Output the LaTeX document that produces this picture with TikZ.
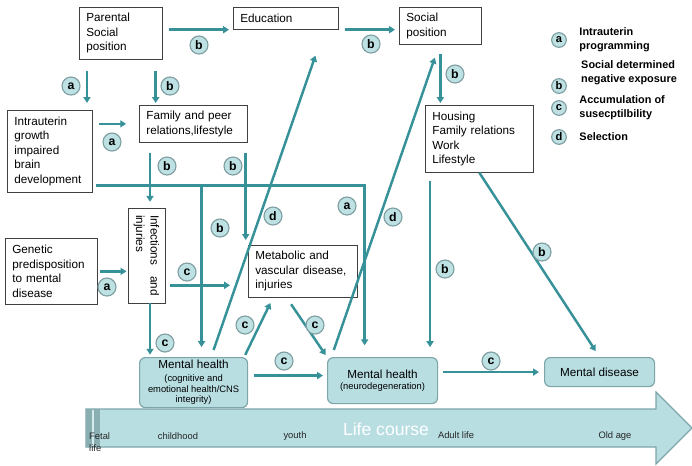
\documentclass[tikz,border=0pt]{standalone}
\usepackage{fontspec}
\setmainfont{Liberation Sans}
\usepackage{tikz}
\usetikzlibrary{positioning, arrows.meta}
\usepackage{xcolor}
\definecolor{tealline}{RGB}{54,145,152}
\definecolor{tealfill}{RGB}{184,222,226}
\definecolor{tealedge}{RGB}{125,166,170}
\definecolor{bubble}{RGB}{190,225,228}
\definecolor{bubbleedge}{RGB}{128,160,163}
\newcommand{\subtxt}{\fontsize{8}{9}\selectfont}
\newcommand{\headtxt}{\fontsize{10}{12}\selectfont}

\begin{document}
\begin{tikzpicture}[x=0.03cm, y=-0.03cm,
        every node/.style={font=\fontsize{10}{12.4}\selectfont},
        box/.style={draw=black!75, line width=0.6pt, anchor=north west, align=left,
                    inner xsep=0.21cm, inner ysep=2pt},
        health/.style={draw=tealedge, fill=tealfill, line width=1pt, rounded corners=5pt,
                       anchor=north west, align=center, inner sep=1pt, font=\subtxt},
        tag/.style={circle, draw=bubbleedge, fill=bubble, line width=1pt, inner sep=0pt,
                    minimum size=0.54cm, font=\fontsize{10.5}{12}\bfseries},
        key/.style={tag, minimum size=0.44cm, font=\fontsize{9.5}{11}\bfseries},
        keytext/.style={align=left, font=\fontsize{9.3}{12}\bfseries, inner sep=0pt},
        age/.style={font=\fontsize{8}{10}\selectfont, inner sep=0pt, text=black!85},
        arr/.style={-{Triangle[length=5pt, width=6pt]}, line width=2.1pt, draw=tealline}]

      \useasboundingbox (0,0) rectangle (692,465);

      \node[box, text width=2.07cm, minimum height=1.56cm] (par) at (79,7) {Parental\\Social\\position};
      \node[box, text width=2.73cm, minimum height=0.66cm] (edu) at (233,7) {Education};
      \node[box, text width=2.04cm, minimum height=1.11cm] (soc) at (399,7) {Social\\position};
      \node[box, text width=2.13cm, minimum height=2.46cm] (intr) at (7,110) {Intrauterin\\growth\\impaired\\brain\\development};
      \node[box, text width=2.82cm, minimum height=1.11cm] (fam) at (139,105) {Family and peer\\relations,lifestyle};
      \node[box, text width=2.82cm, minimum height=2.01cm] (hous) at (425,105) {Housing\\Family relations\\Work\\Lifestyle};
      \node[box, text width=2.34cm, minimum height=1.98cm] (gen) at (5,238) {Genetic\\predisposition\\to mental\\disease};
      \node[box, text width=2.85cm, minimum height=1.56cm] (meta) at (248,245) {Metabolic and\\vascular disease,\\injuries};
      \node[box, anchor=center, rotate=-90, text width=2.43cm, minimum height=1.11cm] (inf) at (146.5,255.5) {Infections\hfill and\\injuries};

      \node[health, minimum width=3.24cm, minimum height=1.5cm] (mhc) at (139,357)
           {{\headtxt Mental health}\\[2pt](cognitive and\\emotional health/CNS\\integrity)};
      \node[health, minimum width=3.3cm, minimum height=1.38cm] (mhn) at (327,357)
           {{\headtxt Mental health}\\[0.5pt](neurodegeneration)};
      \node[health, minimum width=3.3cm, minimum height=0.87cm, font=\headtxt] (mdis) at (544,357) {Mental disease};

      \draw[draw=tealedge, fill=tealfill, line width=1pt] (86,409) -- (656,409) -- (656,392) -- (692,428)
           -- (656,464) -- (656,447) -- (86,447) -- cycle;
      \fill[tealedge!90] (86,409) rectangle (100,447);
      \draw[tealfill!60, line width=1.5pt] (93,410) -- (93,446);
      \node[font=\fontsize{15}{18}\selectfont, text=white] (lc) at (386,429) {Life course};
      \node[age, anchor=west, align=left] (fetal) at (89,442) {Fetal\\life};
      \node[age] (child) at (178,436) {childhood};
      \node[age] (youth) at (295,436) {youth};
      \node[age] (adult) at (456,435) {Adult life};
      \node[age] (old) at (615,436) {Old age};

      \node[key] (ka) at (559,40) {a};
      \node[key] (kb) at (559,86) {b};
      \node[key] (kc) at (559,108) {c};
      \node[key] (kd) at (559,137) {d};
      \node[keytext, right=0.37cm of ka] (ta) {Intrauterin\\programming};
      \node[keytext, anchor=west] (tb) at (581,72.5) {Social determined\\negative exposure};
      \node[keytext, right=0.37cm of kc] (tc) {Accumulation of\\susecptilbility};
      \node[keytext, right=0.37cm of kd] (td) {Selection};

      \coordinate (bus) at ([yshift=6pt]intr.south east);

      \draw[arr, shorten <=5pt, shorten >=3.4pt] (par.east |- edu.south) -- (edu.south west);
      \draw[arr, shorten <=5pt, shorten >=3.4pt] (edu.south east) -- (edu.south east -| soc.west);
      \draw[arr, shorten <=7.7pt, shorten >=1.7pt] (soc.south) -- (soc.south |- hous.north);
      \draw[arr, shorten <=9.4pt, shorten >=6pt] ([xshift=6.8pt]par.south west) -- ([xshift=6.8pt]par.south west |- intr.north);
      \draw[arr, shorten <=9.4pt, shorten >=1.7pt] ([xshift=-6pt]par.south east) -- ([xshift=-6pt]par.south east |- fam.north);
      \draw[arr, shorten <=5pt, shorten >=11pt] (intr.east |- fam.west) -- (fam.west);
      \draw[arr, shorten <=8.5pt, shorten >=5pt] ([xshift=9.4pt]fam.south west) -- ([xshift=9.4pt]fam.south west |- inf.west);
      \draw[arr, shorten <=8.5pt, shorten >=4.3pt] ([xshift=-1.7pt]fam.south east) -- ([xshift=-1.7pt]fam.south east |- meta.north);
      \draw[arr, shorten <=2.5pt, shorten >=10pt] (bus) -| ([xshift=-15.3pt]mhn.north);
      \draw[arr, shorten >=8.5pt] ([xshift=6.8pt]mhc.north |- bus) -- ([xshift=6.8pt]mhc.north);
      \draw[arr, shorten <=6.8pt, shorten >=8.5pt] ([xshift=4.3pt]hous.south west) -- ([xshift=4.3pt]hous.south west |- mhn.north);
      \draw[arr, shorten >=6pt] (hous.south) -- (mdis.north);
      \draw[arr, shorten <=2pt, shorten >=1pt] (gen.east) -- (gen.east -| inf.south);
      \draw[arr, shorten <=4.3pt, shorten >=15.3pt] ([yshift=-11.9pt]meta.west -| inf.north) -- ([yshift=-11.9pt]meta.west);
      \draw[arr, shorten >=2pt] ([xshift=3pt]inf.east) -- ([xshift=3pt]inf.east |- mhc.north);
      \draw[arr, shorten <=2pt, shorten >=5pt] ([xshift=-3.4pt]mhc.north east) -- ([xshift=21.3pt]meta.south west);
      \draw[arr, shorten <=6.8pt, shorten >=2pt] ([xshift=33pt]meta.south west) -- (mhn.north west);
      \draw[arr, shorten <=5pt, shorten >=3.4pt] ([yshift=6pt]mhc.east) -- ([yshift=6pt]mhc.east -| mhn.west);
      \draw[arr, shorten <=4.3pt, shorten >=4.3pt] (mhn.east |- mdis.west) -- (mdis.west);
      \draw[arr, shorten <=6.3pt, shorten >=23.4pt] ([xshift=15pt]mhc.north) -- ([xshift=78pt]edu.south west);
      \draw[arr, shorten <=6.3pt, shorten >=11.7pt] ([xshift=-43.7pt]mhn.north) -- ([xshift=34.4pt]soc.south west);

      \node[tag] (tb1) at (199,45) {b};
      \node[tag] (tb2) at (371,44) {b};
      \node[tag] (ta1) at (71,86) {a};
      \node[tag] (tb3) at (170,86) {b};
      \node[tag] (ta2) at (112,142) {a};
      \node[tag] (tb4) at (167,166) {b};
      \node[tag] (tb5) at (233,166) {b};
      \node[tag] (tb6) at (455,74) {b};
      \node[tag] (ta3) at (107,287) {a};
      \node[tag] (tc1) at (187,272) {c};
      \node[tag] (tb7) at (220,228) {b};
      \node[tag] (td1) at (273,216) {d};
      \node[tag] (tc2) at (245,325) {c};
      \node[tag] (tc3) at (315,325) {c};
      \node[tag] (ta4) at (347,206) {a};
      \node[tag] (td2) at (393,217) {d};
      \node[tag] (tb8) at (445,269) {b};
      \node[tag] (tb9) at (542,252) {b};
      \node[tag] (tc4) at (165,343) {c};
      \node[tag] (tc5) at (284,361) {c};
      \node[tag] (tc6) at (491,361) {c};
    \end{tikzpicture}
\end{document}
